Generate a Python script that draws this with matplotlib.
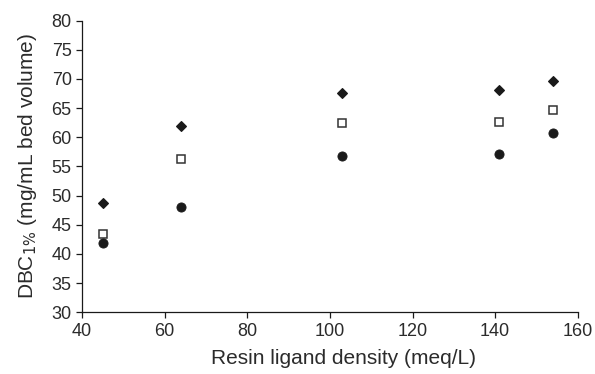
import matplotlib

matplotlib.use("Agg")
import matplotlib.pyplot as plt

# resin ligand density (meq/L) and DBC at 1% breakthrough for three conditions
ligand_density = [45, 64, 103, 141, 154]
dbc_diamond = [48.7, 61.9, 67.6, 68.1, 69.7]
dbc_square = [43.5, 56.2, 62.5, 62.7, 64.6]
dbc_circle = [41.9, 48.1, 56.8, 57.1, 60.7]

TEXT = "#2b2b2b"
INK = "#1a1a1a"

plt.rcParams["font.family"] = ["Liberation Sans", "DejaVu Sans"]

fig = plt.figure(figsize=(5.95, 3.74), dpi=100, facecolor="white")
ax = fig.add_axes([0.138, 0.165, 0.833, 0.780])

ax.plot(ligand_density, dbc_diamond, linestyle="none", marker="D", ms=5.4,
        color=INK, mec=INK, mew=0.8)
ax.plot(ligand_density, dbc_square, linestyle="none", marker="s", ms=5.8,
        mfc="white", mec="#333333", mew=1.1)
ax.plot(ligand_density, dbc_circle, linestyle="none", marker="o", ms=6.6,
        color=INK, mec=INK, mew=0.6)

ax.set_xlim(40, 160)
ax.set_ylim(30, 80)
ax.set_xticks(range(40, 161, 20))
ax.set_yticks(range(30, 81, 5))

for spine in ("top", "right"):
    ax.spines[spine].set_visible(False)
for spine in ("left", "bottom"):
    ax.spines[spine].set_color(INK)
    ax.spines[spine].set_linewidth(0.9)

ax.tick_params(direction="out", length=4, width=0.9, colors=INK,
               labelsize=13, labelcolor=TEXT, pad=3.5)

ax.set_xlabel("Resin ligand density (meq/L)", fontsize=15, color=TEXT)
ax.set_ylabel(r"DBC$_{1\%}$ (mg/mL bed volume)", fontsize=15, color=TEXT, labelpad=9)
# x-axis title sits a little right of the axis centre
ax.xaxis.set_label_coords(0.527, -0.125)

fig.savefig("out.png", dpi=100, facecolor="white")
